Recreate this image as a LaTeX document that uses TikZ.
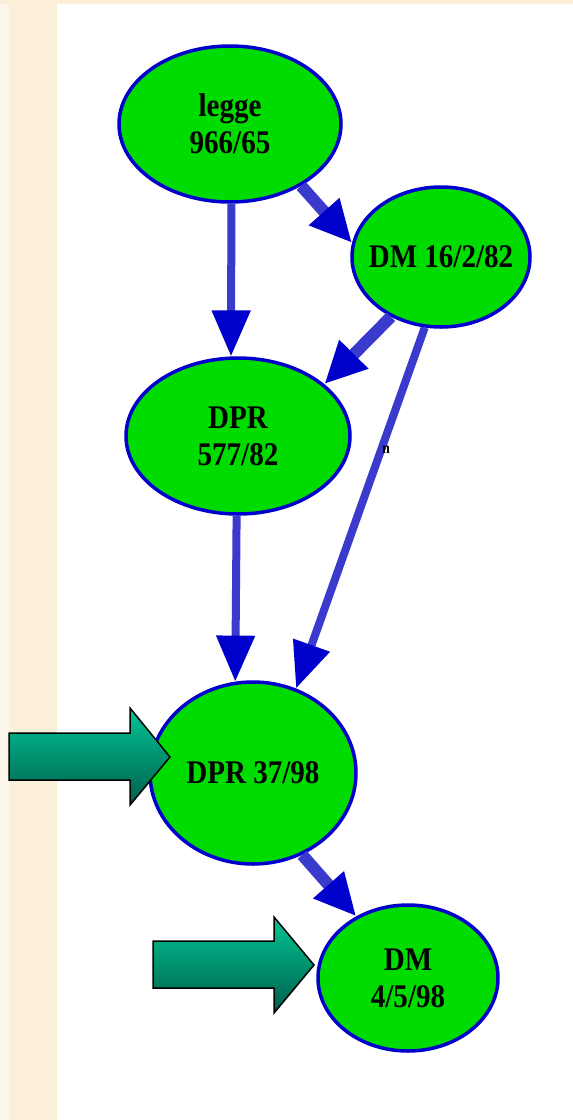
\documentclass[tikz,border=0pt]{standalone}
\usepackage{fontspec}
\newfontfamily\nodefont[FakeStretch=0.88]{Liberation Serif}
\usetikzlibrary{arrows.meta,shapes.geometric}
\definecolor{beige}{HTML}{FBEFD7}
\definecolor{beigelight}{HTML}{FDF6EA}
\definecolor{nodegreen}{HTML}{00DC00}
\definecolor{rimblue}{HTML}{0000CC}
\definecolor{lineblue}{HTML}{3A3ACC}
\definecolor{headblue}{HTML}{0000CC}
\definecolor{tealtop}{HTML}{00C595}
\definecolor{tealbot}{HTML}{005E4A}
\tikzset{
  lawnode/.style={ellipse, draw=rimblue, line width=3.5pt, fill=nodegreen, inner sep=0pt,
    font=\nodefont\bfseries\fontsize{33}{37}\selectfont, align=center, text=black},
  thinedge/.style={draw=lineblue, line width=8pt,
    -{Triangle[length=46pt,width=37pt,color=headblue,fill=headblue]}},
  thickedge/.style={draw=lineblue, line width=12pt,
    -{Triangle[length=42pt,width=38pt,color=headblue,fill=headblue]}},
  bigarrow/.style={draw=black, line width=1.5pt, top color=tealtop, bottom color=tealbot}
}
\begin{document}
\begin{tikzpicture}[x=1pt,y=-1pt]
\useasboundingbox (0,0) rectangle (573,1120);
\fill[beige] (0,0) rectangle (573,1120);
\fill[beigelight] (0,4) rectangle (9,1120);
\fill[white] (57,4) rectangle (573,1120);

\node[lawnode, minimum width=222pt, minimum height=156pt] (legge) at (230,124) {legge\\966/65};
\node[lawnode, minimum width=178pt, minimum height=140pt] (dm16) at (441,257) {\makebox[0pt]{DM 16/2/82}};
\node[lawnode, minimum width=224pt, minimum height=156pt] (dpr577) at (238,436) {DPR\\577/82};
\node[lawnode, minimum width=206pt, minimum height=182pt] (dpr37) at (253,773) {\makebox[0pt]{DPR 37/98}};
\node[lawnode, minimum width=180pt, minimum height=146pt] (dm45) at (408,978) {DM\\4/5/98};

\draw[thinedge] (legge.-89) -- (dpr577.95);
\draw[thickedge] (legge.-41) -- (dm16.171);
\draw[thickedge] (dm16.-130) -- (dpr577.31);
\draw[thinedge] (dm16.-103) -- (dpr37.63);
\draw[thinedge] (dpr577.-91) -- (dpr37.101);
\draw[thickedge] (dpr37.-59) -- (dm45.130);

\node[font=\nodefont\bfseries\fontsize{16}{18}\selectfont, inner sep=0pt, text=black] (mark) at (386,450) {n};

\shade[bigarrow] (9,733) -- (130,733) -- (130,708) -- (170,757) -- (130,805) -- (130,780) -- (9,780) -- cycle;
\shade[bigarrow] (153,941) -- (274,941) -- (274,917) -- (314,965) -- (274,1013) -- (274,988) -- (153,988) -- cycle;
\end{tikzpicture}
\end{document}
